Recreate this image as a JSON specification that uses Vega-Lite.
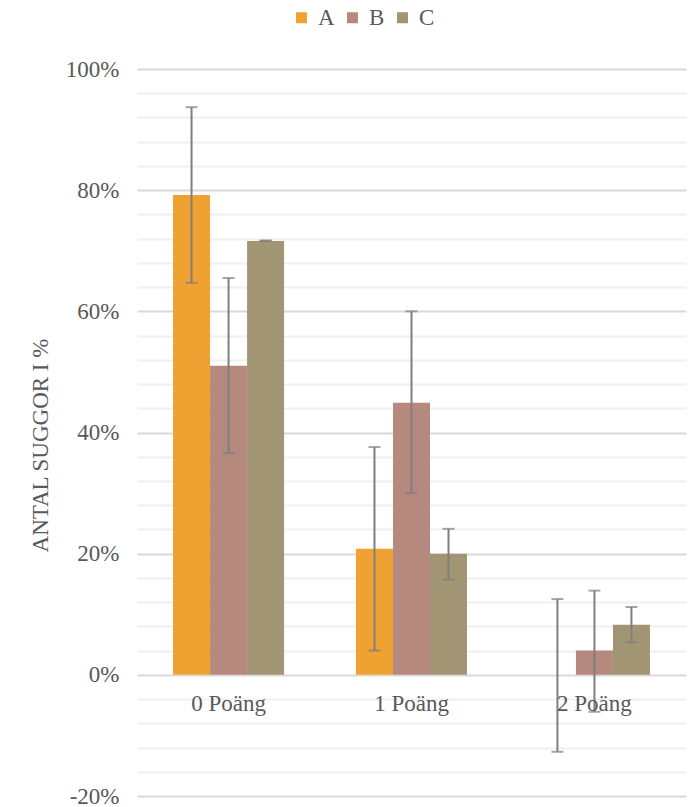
{
  "$schema": "https://vega.github.io/schema/vega-lite/v6.json",
  "width": 549,
  "height": 727,
  "autosize": {"type": "none"},
  "padding": {"left": 137, "top": 69, "right": 3, "bottom": 11},
  "background": "white",
  "config": {
    "view": {"stroke": null},
    "font": "Liberation Serif"
  },
  "data": {
    "values": [
      {"kategori": "0 Poäng", "serie": "A", "varde": 79.2, "lo": 64.7, "hi": 93.7},
      {"kategori": "0 Poäng", "serie": "B", "varde": 51.0, "lo": 36.6, "hi": 65.5},
      {"kategori": "0 Poäng", "serie": "C", "varde": 71.6, "lo": 71.6, "hi": 71.7},
      {"kategori": "1 Poäng", "serie": "A", "varde": 20.8, "lo": 4.0, "hi": 37.6},
      {"kategori": "1 Poäng", "serie": "B", "varde": 44.9, "lo": 30.0, "hi": 60.0},
      {"kategori": "1 Poäng", "serie": "C", "varde": 20.0, "lo": 15.7, "hi": 24.1},
      {"kategori": "2 Poäng", "serie": "A", "varde": 0.0, "lo": -12.7, "hi": 12.5},
      {"kategori": "2 Poäng", "serie": "B", "varde": 4.0, "lo": -6.1, "hi": 13.9},
      {"kategori": "2 Poäng", "serie": "C", "varde": 8.25, "lo": 5.4, "hi": 11.2}
    ]
  },
  "encoding": {
    "x": {
      "field": "kategori",
      "type": "nominal",
      "sort": ["0 Poäng", "1 Poäng", "2 Poäng"],
      "scale": {"paddingInner": 0.393, "paddingOuter": 0.197},
      "axis": {
        "title": null,
        "labelAngle": 0,
        "labelFont": "Liberation Serif",
        "labelFontSize": 23,
        "labelColor": "#595959",
        "labelPadding": 18,
        "domain": false,
        "ticks": false,
        "grid": false,
        "offset": -122,
        "zindex": 2
      }
    },
    "xOffset": {"field": "serie", "type": "nominal", "sort": ["A", "B", "C"]}
  },
  "layer": [
    {
      "mark": {"type": "bar"},
      "encoding": {
        "y": {
          "field": "varde",
          "type": "quantitative",
          "scale": {"domain": [-20, 100], "nice": false},
          "axis": {
            "values": [-20, -16, -12, -8, -4, 0, 4, 8, 12, 16, 20, 24, 28, 32, 36, 40, 44, 48, 52, 56, 60, 64, 68, 72, 76, 80, 84, 88, 92, 96, 100],
            "tickCount": 40,
            "labelExpr": "datum.value % 20 == 0 ? datum.value + '%' : ''",
            "labelOverlap": false,
            "labelFont": "Liberation Serif",
            "labelFontSize": 23,
            "labelColor": "#595959",
            "labelPadding": 18,
            "domain": false,
            "ticks": false,
            "grid": true,
            "gridWidth": 2,
            "gridColor": {"condition": {"test": "datum.value % 20 == 0", "value": "#d9d9d9"}, "value": "#f0f0f0"},
            "title": "ANTAL SUGGOR I %",
            "titleFont": "Liberation Serif",
            "titleFontSize": 23,
            "titleFontWeight": "normal",
            "titleColor": "#595959",
            "titleAngle": 270,
            "titleAlign": "center",
            "titleBaseline": "middle",
            "titleX": -97,
            "titleY": 376,
            "zindex": 0
          }
        },
        "color": {
          "field": "serie",
          "type": "nominal",
          "scale": {"domain": ["A", "B", "C"], "range": ["#EFA231", "#B5897D", "#A19573"]},
          "legend": {
            "title": null,
            "orient": "none",
            "direction": "horizontal",
            "legendX": 153,
            "legendY": -63,
            "symbolType": "square",
            "symbolSize": 121,
            "symbolStrokeWidth": 0,
            "labelFont": "Liberation Serif",
            "labelFontSize": 23,
            "labelColor": "#595959",
            "labelOffset": 5,
            "columnPadding": 6
          }
        }
      }
    },
    {
      "mark": {"type": "rule", "color": "#7f7f7f", "strokeWidth": 2},
      "encoding": {
        "y": {"field": "lo", "type": "quantitative"},
        "y2": {"field": "hi"}
      }
    },
    {
      "mark": {"type": "tick", "color": "#7f7f7f", "thickness": 2, "size": 12},
      "encoding": {
        "y": {"field": "lo", "type": "quantitative"}
      }
    },
    {
      "mark": {"type": "tick", "color": "#7f7f7f", "thickness": 2, "size": 12},
      "encoding": {
        "y": {"field": "hi", "type": "quantitative"}
      }
    }
  ]
}
